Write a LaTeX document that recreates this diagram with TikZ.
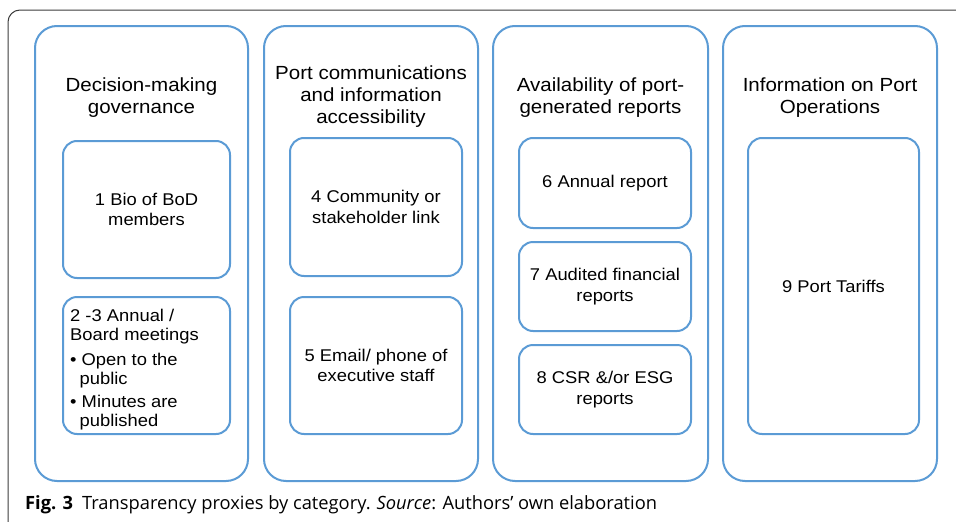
\documentclass[tikz,border=0pt]{standalone}
\usepackage{fontspec}
\setmainfont{Liberation Sans}[FakeStretch=1.08]
\newfontfamily\capfont{Open Sans}
\definecolor{boxblue}{RGB}{91,155,213}
\definecolor{framegray}{RGB}{60,60,60}
\tikzset{
  colbox/.style={draw=boxblue, line width=2pt, rounded corners=22pt, rectangle, inner sep=0pt},
  innerbox/.style={draw=boxblue, line width=2pt, rounded corners=14pt, rectangle, inner sep=0pt, align=center, font=\fontsize{17}{20.4}\selectfont},
  coltitle/.style={align=center, inner sep=0pt, font=\fontsize{19}{22}\selectfont},
}
\begin{document}
\begin{tikzpicture}[x=1pt,y=-1pt]
\useasboundingbox (0,0) rectangle (956,522);
\begin{scope}
\clip (0,0) rectangle (956,522);
\draw[framegray, line width=1pt, rounded corners=12pt] (8,10) rectangle (1000,560);
\end{scope}
% columns
\node[colbox, minimum width=213pt, minimum height=455pt] (col1) at (141.5,253.5) {};
\node[colbox, minimum width=214pt, minimum height=455pt] (col2) at (371,253.5) {};
\node[colbox, minimum width=215pt, minimum height=455pt] (col3) at (600.5,253.5) {};
\node[colbox, minimum width=214pt, minimum height=455pt] (col4) at (830,253.5) {};
% titles
\node[coltitle] (t1) at (141.5,97.5) {Decision-making\\governance};
\node[coltitle] (t2) at (371,97) {Port communications\\and information\\accessibility};
\node[coltitle] (t3) at (600.5,97.5) {Availability of port-\\generated reports};
\node[coltitle] (t4) at (830,97.5) {Information on Port\\Operations};
% inner boxes
\node[innerbox, minimum width=167pt, minimum height=137pt] (b1) at (146.5,209.5) {1 Bio of BoD\\members};
\node[innerbox, minimum width=167pt, minimum height=137pt] (b2) at (146.5,365.5) {};
\node[anchor=west, inner sep=0pt, align=left, font=\fontsize{17}{19}\selectfont] (b2t) at (70,369.5)
  {2 -3 Annual /\\Board meetings\\[6pt]\textbullet\ Open to the\\\hspace*{9.5pt}public\\[4pt]\textbullet\ Minutes are\\\hspace*{9.5pt}published};
\node[innerbox, minimum width=172pt, minimum height=138pt] (b4) at (376,207) {4 Community or\\stakeholder link};
\node[innerbox, minimum width=172pt, minimum height=137pt] (b5) at (376,365.5) {5 Email/ phone of\\executive staff};
\node[innerbox, minimum width=172pt, minimum height=90pt] (b6) at (605,183) {6 Annual report};
\node[innerbox, minimum width=172pt, minimum height=89pt] (b7) at (605,286.5) {7 Audited financial\\reports};
\node[innerbox, minimum width=172pt, minimum height=89pt] (b8) at (605,389.5) {8 CSR \&/or ESG\\reports};
\node[innerbox, minimum width=171pt, minimum height=296pt] (b9) at (833.5,286) {9 Port Tariffs};
% caption
\node[anchor=base west, inner sep=0pt, font=\capfont\fontsize{18.3}{21}\selectfont] (cap) at (25,509)
  {\textbf{Fig. 3}\hspace{9pt}Transparency proxies by category.\hspace{6pt}\textit{Source}: Authors’ own elaboration};
\end{tikzpicture}
\end{document}
